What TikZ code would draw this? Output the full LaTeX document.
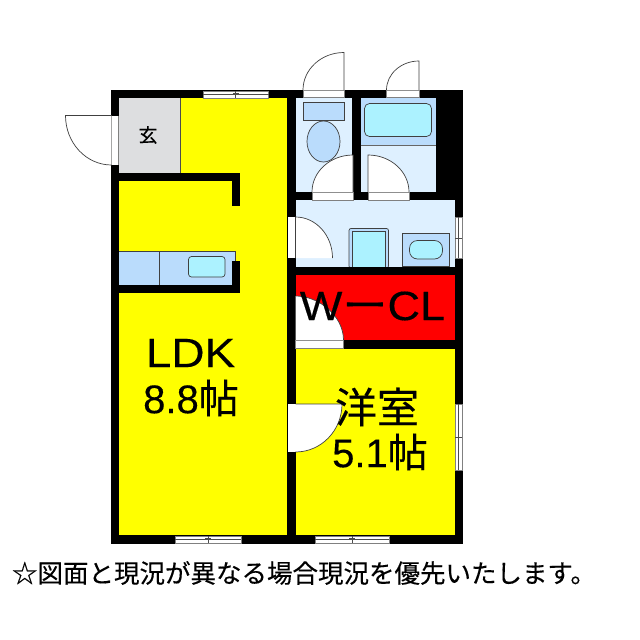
\documentclass[tikz,border=0pt]{standalone}
\usepackage{fontspec}
\setmainfont[FakeBold=0.3]{Liberation Sans}
\newfontfamily\cjk[FakeBold=0.3]{Noto Sans CJK JP}
\usetikzlibrary{calc}
\definecolor{pale}{RGB}{222,240,255}
\definecolor{midblue}{RGB}{186,220,252}
\definecolor{cyanb}{RGB}{172,242,255}
\definecolor{gfloor}{RGB}{221,222,224}
\definecolor{redroom}{RGB}{255,0,0}
\definecolor{floory}{RGB}{255,255,0}
\tikzset{
  x=1pt,y=-1pt,
  wall/.style={fill=black,draw=none},
  room/.style={draw=none},
  fixture/.style={draw=black!75,line width=0.7pt},
  leaf/.style={fill=white,draw=black!75,line width=0.7pt},
  gap/.style={fill=white,draw=none},
  winframe/.style={fill=white,draw=black!50,line width=0.6pt},
  winline/.style={draw=black!70,line width=0.6pt},
  bigtext/.style={inner sep=0pt,align=center}
}
\newcommand{\doorleaf}[3]{\filldraw[leaf] (#1) -- (#2) .. controls ($(#2)+0.5523*(#3)-0.5523*(#1)$) and ($(#3)+0.5523*(#2)-0.5523*(#1)$) .. (#3);}
\newcommand{\hwin}[3]{% x1 x2 ytop
  \path[winframe] (#1,#3) rectangle (#2,#3+7);
  \draw[winline] (#1,#3+3.5) -- (#2,#3+3.5);
  \draw[winline] ({(#1+#2)/2},#3) -- ({(#1+#2)/2},#3+7);
  \draw[winline] ({(#1+#2)/2-3},#3+2.5) -- ({(#1+#2)/2+3},#3+2.5);}
\begin{document}
\begin{tikzpicture}
\useasboundingbox[fill=white] (0,0) rectangle (640,640);
% shell
\path[wall] (111,90) rectangle (462.5,543.5);
% LDK floor
\path[room,fill=floory] (119,98) rectangle (287,535);
\path[room,fill=gfloor] (119,98) rectangle (180,173);
\draw[black!70,line width=0.6pt] (180,98) -- (180,173);
% LDK inner walls
\path[wall] (119,173) rectangle (239.7,181);
\path[wall] (231.5,181) rectangle (239.7,205.5);
\path[room,fill=midblue] (119,251.5) rectangle (235.5,285);
\draw[black!75,line width=0.6pt] (119,251.5) -- (235.5,251.5) -- (235.5,260.5);
\draw[black!75,line width=0.7pt] (159.5,251.5) -- (159.5,285);
\path[wall] (119,285) rectangle (239.7,293);
\path[wall] (231.5,260.5) rectangle (239.7,293);
\draw[fixture,fill=cyanb,rounded corners=3pt] (188.5,256.5) rectangle (225,277);
% toilet
\path[room,fill=pale] (295.5,98) rectangle (352,192);
\draw[fixture,fill=midblue] (303,102) rectangle (344,120.5);
\draw[fixture,fill=midblue] (323.5,141.5) ellipse (16.5 and 20.5);
% bath
\path[room,fill=pale] (360.5,98) rectangle (435.5,192);
\path[room,fill=midblue] (360.5,98) rectangle (435.5,145);
\draw[black!60,line width=0.5pt] (360.5,145) -- (435.5,145);
\draw[fixture,fill=cyanb,rounded corners=5pt] (364.5,103.5) rectangle (431.5,136.5);
% hall
\path[room,fill=pale] (295.5,200) rectangle (454.5,266.5);
\draw[fixture,fill=midblue,rounded corners=2pt] (349,228.5) rectangle (388.5,268);
\draw[fixture,fill=cyanb] (352.5,231.5) rectangle (385,268);
\draw[fixture,fill=midblue] (402.5,233) rectangle (449.5,266.5);
\draw[fixture,fill=cyanb,rounded corners=8pt] (409.5,240.5) rectangle (442.5,259);
\path[wall] (295,266.5) rectangle (462,274.5);
% closet and bedroom
\path[room,fill=redroom] (295.5,274.5) rectangle (454.5,340);
\path[room,fill=floory] (295.5,348.5) rectangle (454.5,535);
% door openings
\path[winframe] (303,90.5) rectangle (344,97.5);
\path[winframe] (386.5,90.5) rectangle (419,97.5);
\path[winframe] (312,192) rectangle (353,200);
\path[winframe] (368,192) rectangle (409,200);
\path[winframe] (295.5,340) rectangle (343.5,348);
\path[gap] (111.5,115.5) rectangle (118.5,165);
\draw[black!50,line width=0.5pt] (118.5,115.5) -- (118.5,165);
\path[gap] (287.5,217) rectangle (295.5,258);
\path[gap] (288,404) rectangle (295.5,452);
% door leaves
\doorleaf{111.5,115.5}{65.5,115.5}{111.5,165}
\doorleaf{344,90}{344,52.5}{303,90}
\doorleaf{419,90}{419,61}{386.5,90}
\doorleaf{353,192}{353,155}{312,192}
\doorleaf{368,192}{368,155}{409,192}
\doorleaf{295.5,258}{295.5,217}{332.5,258}
\path[leaf,draw=none] (295.5,340) -- (295.5,296) .. controls (319,296) and (343.5,316) .. (343.5,340) -- cycle;
\draw[black!75,line width=0.7pt] (295.5,296) .. controls (319,296) and (343.5,316) .. (343.5,340);
\doorleaf{295.5,404}{342,404}{295.5,452}
% windows
\hwin{203}{268.5}{91}
\hwin{175}{241}{536}
\hwin{315}{389}{536}
\path[winframe] (455,217) rectangle (462,258);
\draw[winline] (458.5,217) -- (458.5,258);
\draw[winline] (455,238) -- (462,238);
\path[winframe] (455,404) rectangle (462,470);
\draw[winline] (458.5,404) -- (458.5,470);
\draw[winline] (455,437) -- (462,437);
% labels
\node[bigtext] (genkan) at (148,135) {\cjk\fontsize{19}{19}\selectfont 玄};
\node[bigtext] (wcl) at (372.5,306) {\scalebox{1.1}[1]{\fontsize{41}{41}\selectfont W\cjk ー\rmfamily CL}};
\node[bigtext] (ldk) at (190.5,353) {\scalebox{1.12}[1]{\fontsize{41}{41}\selectfont LDK}};
\node[bigtext] (ldkarea) at (191,398) {\fontsize{40}{40}\selectfont 8.8{\cjk 帖}};
\node[bigtext] (yoshitsu) at (377,407) {\cjk\fontsize{42}{42}\selectfont 洋室};
\node[bigtext] (yoarea) at (380,452) {\fontsize{40}{40}\selectfont 5.1{\cjk 帖}};
\node[bigtext] (note) at (304,573) {\cjk\fontsize{25.5}{25.5}\selectfont ☆図面と現況が異なる場合現況を優先いたします。};
\end{tikzpicture}
\end{document}
